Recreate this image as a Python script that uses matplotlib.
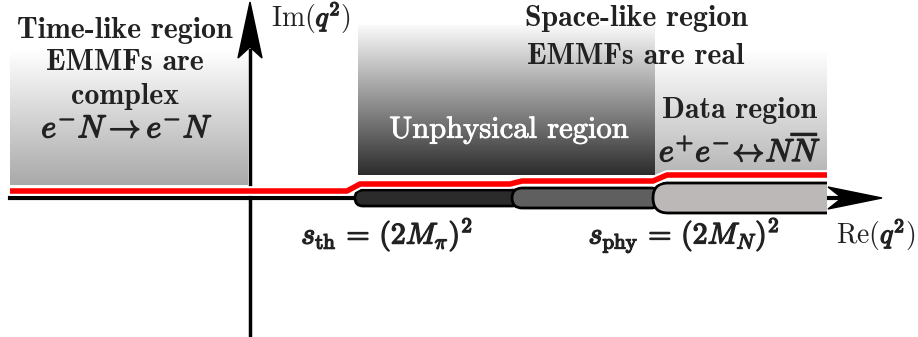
import numpy as np
import matplotlib.pyplot as plt
from matplotlib.patches import FancyBboxPatch, Polygon, Rectangle
from matplotlib.colors import LinearSegmentedColormap
from matplotlib.offsetbox import TextArea, HPacker, AnnotationBbox
import matplotlib.patheffects as pe

plt.rcParams['mathtext.fontset'] = 'cm'

# Schematic data (picture coordinates, y grows downwards)
cut_edges = [355, 512, 653, 827]          # s_th, middle, s_phy, end of the cut
cut_heights = [16, 20, 30]
cut_colors = ['#2b2b2b', '#5f5f5f', '#bdb8b8']
red_x = [10, 347, 360, 510, 522, 653, 667, 827]
red_y = [191, 191, 184, 184, 181, 181, 175, 175]
axis_y = 198
axis_x = 250

# Shaded regions: (x0, x1, y_top, y_bottom, top colour, bottom colour)
regions = {
    'time-like': (10, 248, 50, 185, '#ffffff', '#a9a9a9'),
    'unphysical': (358, 655, 25, 175, '#fafafa', '#2c2c2c'),
    'data': (655, 827, 50, 175, '#ffffff', '#b6b6b6'),
}

ink = '#222222'
# faux bold for the math labels
fat = [pe.withStroke(linewidth=1.0, foreground=ink)]

fig = plt.figure(figsize=(9.18, 3.37), dpi=100)
ax = fig.add_axes([0, 0, 1, 1])

# gradient boxes
for name, (x0, x1, yt, yb, ct, cb) in regions.items():
    cmap = LinearSegmentedColormap.from_list(name, [ct, cb])
    grad = np.linspace(0, 1, 256).reshape(-1, 1)
    ax.imshow(grad, cmap=cmap, extent=(x0, x1, yb, yt), aspect='auto', zorder=1)
ax.set_xlim(0, 918)
ax.set_ylim(337, 0)
ax.axis('off')

# vertical axis + arrow head
ax.plot([axis_x, axis_x], [337, 50], color='black', lw=2.5, zorder=3)
ax.add_patch(Polygon([[axis_x, 2], [axis_x - 12, 58], [axis_x, 47], [axis_x + 12, 58]],
                     closed=True, color='black', zorder=4))

# horizontal axis + arrow head
ax.plot([10, 840], [axis_y, axis_y], color='black', lw=3, zorder=3)
ax.add_patch(Polygon([[882, axis_y], [828, axis_y - 11], [842, axis_y], [828, axis_y + 11]],
                     closed=True, color='black', zorder=4))

# cut segments (capsules)
clip = Rectangle((0, 0), cut_edges[-1], 337, transform=ax.transData)
for i in range(3):
    x0 = cut_edges[i]
    x1 = cut_edges[i + 1] + (8 if i < 2 else 20)
    h = cut_heights[i]
    p = FancyBboxPatch((x0, axis_y - h / 2), x1 - x0, h,
                       boxstyle=f'round,pad=0,rounding_size={h / 2}',
                       fc=cut_colors[i], ec='black', lw=2, zorder=5 + i)
    ax.add_patch(p)
    if i == 2:
        p.set_clip_path(clip)

# red line with white outline
ax.plot(red_x, red_y, color='red', lw=4, zorder=9, solid_capstyle='butt',
        path_effects=[pe.Stroke(linewidth=7, foreground='white'), pe.Normal()])

# texts
bold = dict(family='cmb10', fontsize=21.5, color=ink, ha='center', va='center')
ax.text(125, 30, 'Time-like region', **bold)
ax.text(125, 63, 'EMMFs are', **bold)
ax.text(125, 97, 'complex', **bold)
ax.text(127, 129, r'$e^{-}N \rightarrow e^{-}N$', fontsize=23,
        color=ink, ha='center', va='center', path_effects=fat)

ax.text(636, 18, 'Space-like region', **bold)
ax.text(636, 56, 'EMMFs are real', **bold)
ax.text(509, 130, 'Unphysical region', family='cmr10', fontsize=22, color='white',
        ha='center', va='center', path_effects=[pe.withStroke(linewidth=0.6, foreground='white')])
ax.text(740, 111, 'Data region', **bold)
ax.text(740, 151, r'$e^{+}e^{-}\!\leftrightarrow\! N\overline{N}$', fontsize=23,
        color=ink, ha='center', va='center', path_effects=fat)


def axis_label(x, y, name, ha):
    parts = [TextArea(r'$\mathrm{%s}($' % name, textprops=dict(fontsize=20, color=ink)),
             TextArea(r'$q^{2}$', textprops=dict(fontsize=20, color=ink, path_effects=fat)),
             TextArea(r'$)$', textprops=dict(fontsize=20, color=ink))]
    box = HPacker(children=parts, pad=0, sep=0, align='baseline')
    ab = AnnotationBbox(box, (x, y), xycoords='data', frameon=False,
                        box_alignment=(0 if ha == 'left' else 1, 0.5), pad=0)
    ax.add_artist(ab)


axis_label(271, 17, 'Im', 'left')
axis_label(915, 234, 'Re', 'right')

ax.text(387, 235, r'$s_{\mathrm{th}}\, =\, (2M_{\pi})^{2}$', fontsize=21.5,
        color=ink, ha='center', va='center', path_effects=fat)
ax.text(684, 235, r'$s_{\mathrm{phy}}\, =\, (2M_{N})^{2}$', fontsize=21.5,
        color=ink, ha='center', va='center', path_effects=fat)

fig.savefig('out.png', dpi=100)
